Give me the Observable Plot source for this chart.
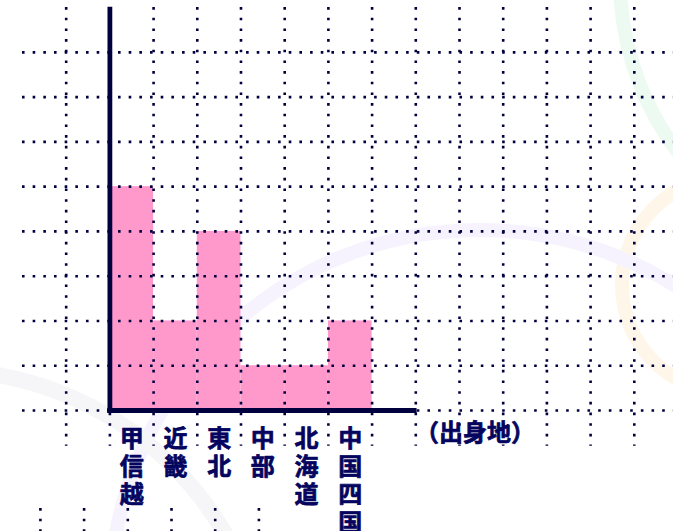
<!DOCTYPE html>
<html>
<head>
<meta charset="utf-8">
<script src="https://cdn.jsdelivr.net/npm/d3@7"></script>
<script src="https://cdn.jsdelivr.net/npm/@observablehq/plot@0.6"></script>
<style>
  html, body { margin: 0; padding: 0; background: #ffffff; }
  #wrap { position: relative; width: 673px; height: 531px; overflow: hidden; }
  #bg { position: absolute; left: 0; top: 0; }
  #chart { position: absolute; left: 0; top: 0; }
</style>
</head>
<body>
<div id="wrap">
  <svg id="bg" width="673" height="531" xmlns="http://www.w3.org/2000/svg">
    <circle cx="905" cy="-20" r="285" fill="none" stroke="#ecfaf1" stroke-width="14"/>
    <circle cx="730" cy="285" r="108" fill="none" stroke="#fff6ea" stroke-width="14"/>
    <circle cx="480" cy="600" r="370" fill="none" stroke="#f6f3ff" stroke-width="14"/>
    <circle cx="-60" cy="700" r="330" fill="none" stroke="#f6f6f8" stroke-width="16"/>
  </svg>
  <div id="chart"></div>
</div>
<script>
const categories = ["甲信越", "近畿", "東北", "中部", "北海道", "中国四国"];
const counts = [5, 2, 4, 1, 1, 2];
const yGridValues = [0, 1, 2, 3, 4, 5, 6, 7, 8];
const xGridTop = [-1, 0, 1, 2, 3, 4, 5, 6, 7, 8, 9, 10, 11, 12, 13];
const xGridBottom = [-1.59, -0.59, 0.41, 1.41, 2.41, 3.41];
const xAxisLabel = "（出身地）";

const bars = categories.map((c, i) => ({ c, i, n: counts[i] }));

const navy = "#00003f";
const textNavy = "#05055f";
const dots = { stroke: navy, strokeWidth: 2.6, strokeDasharray: "2.6 8.07" };
const font = "'Noto Sans CJK JP', 'Noto Sans CJK SC', sans-serif";
const textStyle = {
  fontSize: 24,
  fontWeight: "bold",
  fontFamily: font,
  fill: textNavy,
  stroke: textNavy,
  strokeWidth: 0.7
};

const chart = Plot.plot({
  width: 673,
  height: 531,
  margin: 0,
  style: { background: "transparent", overflow: "visible" },
  x: { type: "linear", domain: [-2.503, 12.897], range: [0, 673], axis: null },
  y: { type: "linear", domain: [-2.703, 9.158], range: [531, 0], axis: null },
  marks: [
    Plot.rectY(bars, { x1: d => d.i, x2: d => d.i + 1, y1: 0, y2: "n", fill: "#ff99cc" }),
    Plot.ruleY(yGridValues, { x1: -2, x2: 13, ...dots }),
    Plot.ruleX(xGridTop, { y1: 9, y2: -0.8, ...dots }),
    Plot.ruleX(xGridBottom, { y1: -2.19, y2: -2.75, ...dots }),
    Plot.ruleX([0], { y1: 9.01, y2: -0.06, stroke: navy, strokeWidth: 4.8 }),
    Plot.ruleY([0], { x1: -0.05, x2: 7.03, stroke: navy, strokeWidth: 4.8 }),
    Plot.text(bars, {
      x: d => d.i + 0.5,
      y: -0.37,
      text: d => [...d.c].join("\n"),
      lineAnchor: "top",
      lineHeight: 1.17,
      ...textStyle
    }),
    Plot.text([xAxisLabel], {
      x: 6.98,
      y: -0.5,
      text: d => d,
      textAnchor: "start",
      lineAnchor: "middle",
      ...textStyle
    })
  ]
});
document.getElementById("chart").appendChild(chart);
</script>
</body>
</html>
